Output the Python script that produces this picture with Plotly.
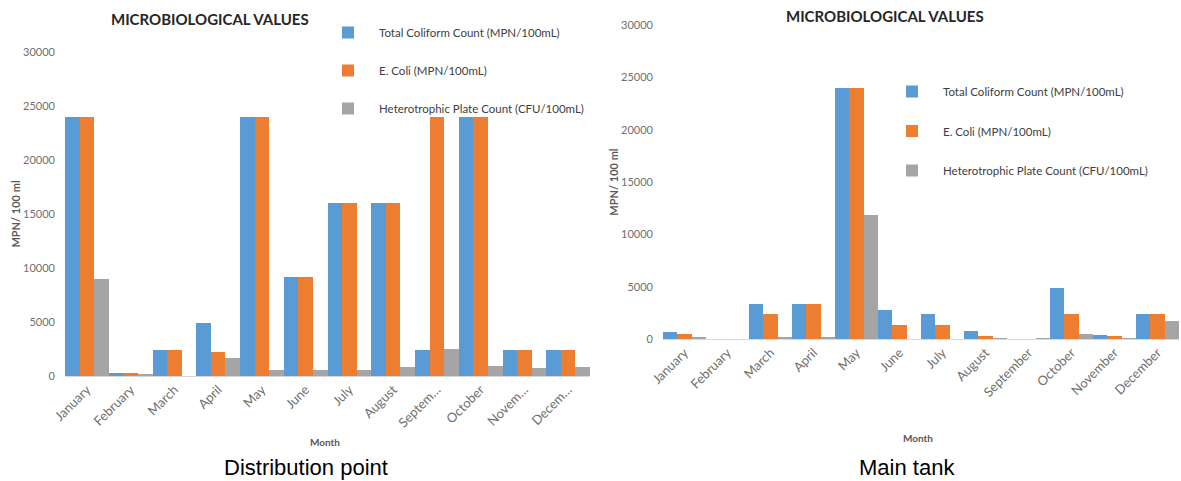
import plotly.graph_objects as go

months = ["January", "February", "March", "April", "May", "June", "July",
          "August", "September", "October", "November", "December"]
dist_ticklabels = ["January", "February", "March", "April", "May", "June", "July",
                   "August", "Septem…", "October", "Novem…", "Decem…"]

series_names = ["Total Coliform Count (MPN/100mL)",
                "E. Coli (MPN/100mL)",
                "Heterotrophic Plate Count (CFU/100mL)"]

# Distribution point
dist_tcc = [24000, 250, 2400, 4900, 24000, 9200, 16000, 16000, 2400, 24000, 2400, 2400]
dist_ecoli = [24000, 300, 2400, 2200, 24000, 9200, 16000, 16000, 24000, 24000, 2400, 2400]
dist_hpc = [9000, 150, 0, 1700, 600, 550, 600, 800, 2500, 900, 700, 800]

# Main tank
tank_tcc = [700, 0, 3300, 3300, 24000, 2800, 2400, 800, 0, 4900, 350, 2400]
tank_ecoli = [480, 0, 2400, 3300, 24000, 1300, 1300, 300, 0, 2400, 280, 2400]
tank_hpc = [150, 0, 200, 100, 11800, 0, 0, 50, 50, 500, 50, 1700]

colors = ["#5B9BD5", "#ED7D31", "#A5A5A5"]

W, H = 1181, 481
LABEL_FONT = "Lato, Calibri, sans-serif"
TICK_COLOR = "#6f6f6f"

fig = go.Figure()

for i, (name, vals) in enumerate(zip(series_names, [dist_tcc, dist_ecoli, dist_hpc])):
    fig.add_trace(go.Bar(x=months, y=vals, name=name, marker_color=colors[i],
                         marker_line_width=0, xaxis="x", yaxis="y",
                         legend="legend", legendgroup=f"d{i}"))
for i, (name, vals) in enumerate(zip(series_names, [tank_tcc, tank_ecoli, tank_hpc])):
    fig.add_trace(go.Bar(x=months, y=vals, name=name, marker_color=colors[i],
                         marker_line_width=0, xaxis="x2", yaxis="y2",
                         legend="legend2", legendgroup=f"t{i}"))


def px_x(v):
    return v / W


def px_y(v):
    return 1 - v / H


yaxis_common = dict(range=[0, 30000], dtick=5000, tickformat="d", showgrid=False,
                    zeroline=False, showline=False, ticks="",
                    tickfont=dict(family=LABEL_FONT, size=11, color=TICK_COLOR),
                    ticklabelstandoff=9,
                    title=dict(text="<b>MPN/ 100 ml</b>", standoff=0,
                               font=dict(family=LABEL_FONT, size=11, color="#595959")))
xaxis_common = dict(type="category", showgrid=False, zeroline=False, showline=True,
                    linecolor="#d9d9d9", linewidth=1, ticks="", tickangle=-45,
                    tickfont=dict(family=LABEL_FONT, size=13, color=TICK_COLOR))

legend_common = dict(font=dict(family=LABEL_FONT, size=11.5, color="#404040"),
                     bgcolor="rgba(0,0,0,0)", traceorder="grouped",
                     itemwidth=52, xanchor="left", yanchor="top")

fig.update_layout(
    width=W, height=H, autosize=False, template="none",
    paper_bgcolor="white", plot_bgcolor="white",
    margin=dict(l=0, r=0, t=0, b=0),
    barmode="group", bargap=0, bargroupgap=0,
    xaxis=dict(domain=[px_x(65), px_x(590)], anchor="y",
               tickvals=months, ticktext=dist_ticklabels, **xaxis_common),
    yaxis=dict(domain=[px_y(376), px_y(52)], anchor="x", **yaxis_common),
    xaxis2=dict(domain=[px_x(663), px_x(1179)], anchor="y2", **xaxis_common),
    yaxis2=dict(domain=[px_y(339), px_y(25)], anchor="x2", **yaxis_common),
    legend=dict(x=px_x(317), y=px_y(18), tracegroupgap=19, **legend_common),
    legend2=dict(x=px_x(881), y=px_y(77), tracegroupgap=20.5, **legend_common),
    showlegend=True,
)

title_font = dict(family=LABEL_FONT, size=15, color="#262626")
annotations = [
    dict(text="<b>MICROBIOLOGICAL VALUES</b>", x=px_x(210), y=px_y(19), font=title_font),
    dict(text="<b>MICROBIOLOGICAL VALUES</b>", x=px_x(885), y=px_y(16), font=title_font),
    dict(text="<b>Month</b>", x=px_x(325), y=px_y(442),
         font=dict(family=LABEL_FONT, size=10, color="#595959")),
    dict(text="<b>Month</b>", x=px_x(918), y=px_y(438),
         font=dict(family=LABEL_FONT, size=10, color="#595959")),
    dict(text="Distribution point", x=px_x(306), y=px_y(467),
         font=dict(family="Liberation Sans, Arial, sans-serif", size=22, color="#000000")),
    dict(text="Main tank", x=px_x(907), y=px_y(467),
         font=dict(family="Liberation Sans, Arial, sans-serif", size=22, color="#000000")),
]
for a in annotations:
    a.update(xref="paper", yref="paper", showarrow=False, xanchor="center", yanchor="middle")
fig.update_layout(annotations=annotations)

fig.write_html("out.html")
